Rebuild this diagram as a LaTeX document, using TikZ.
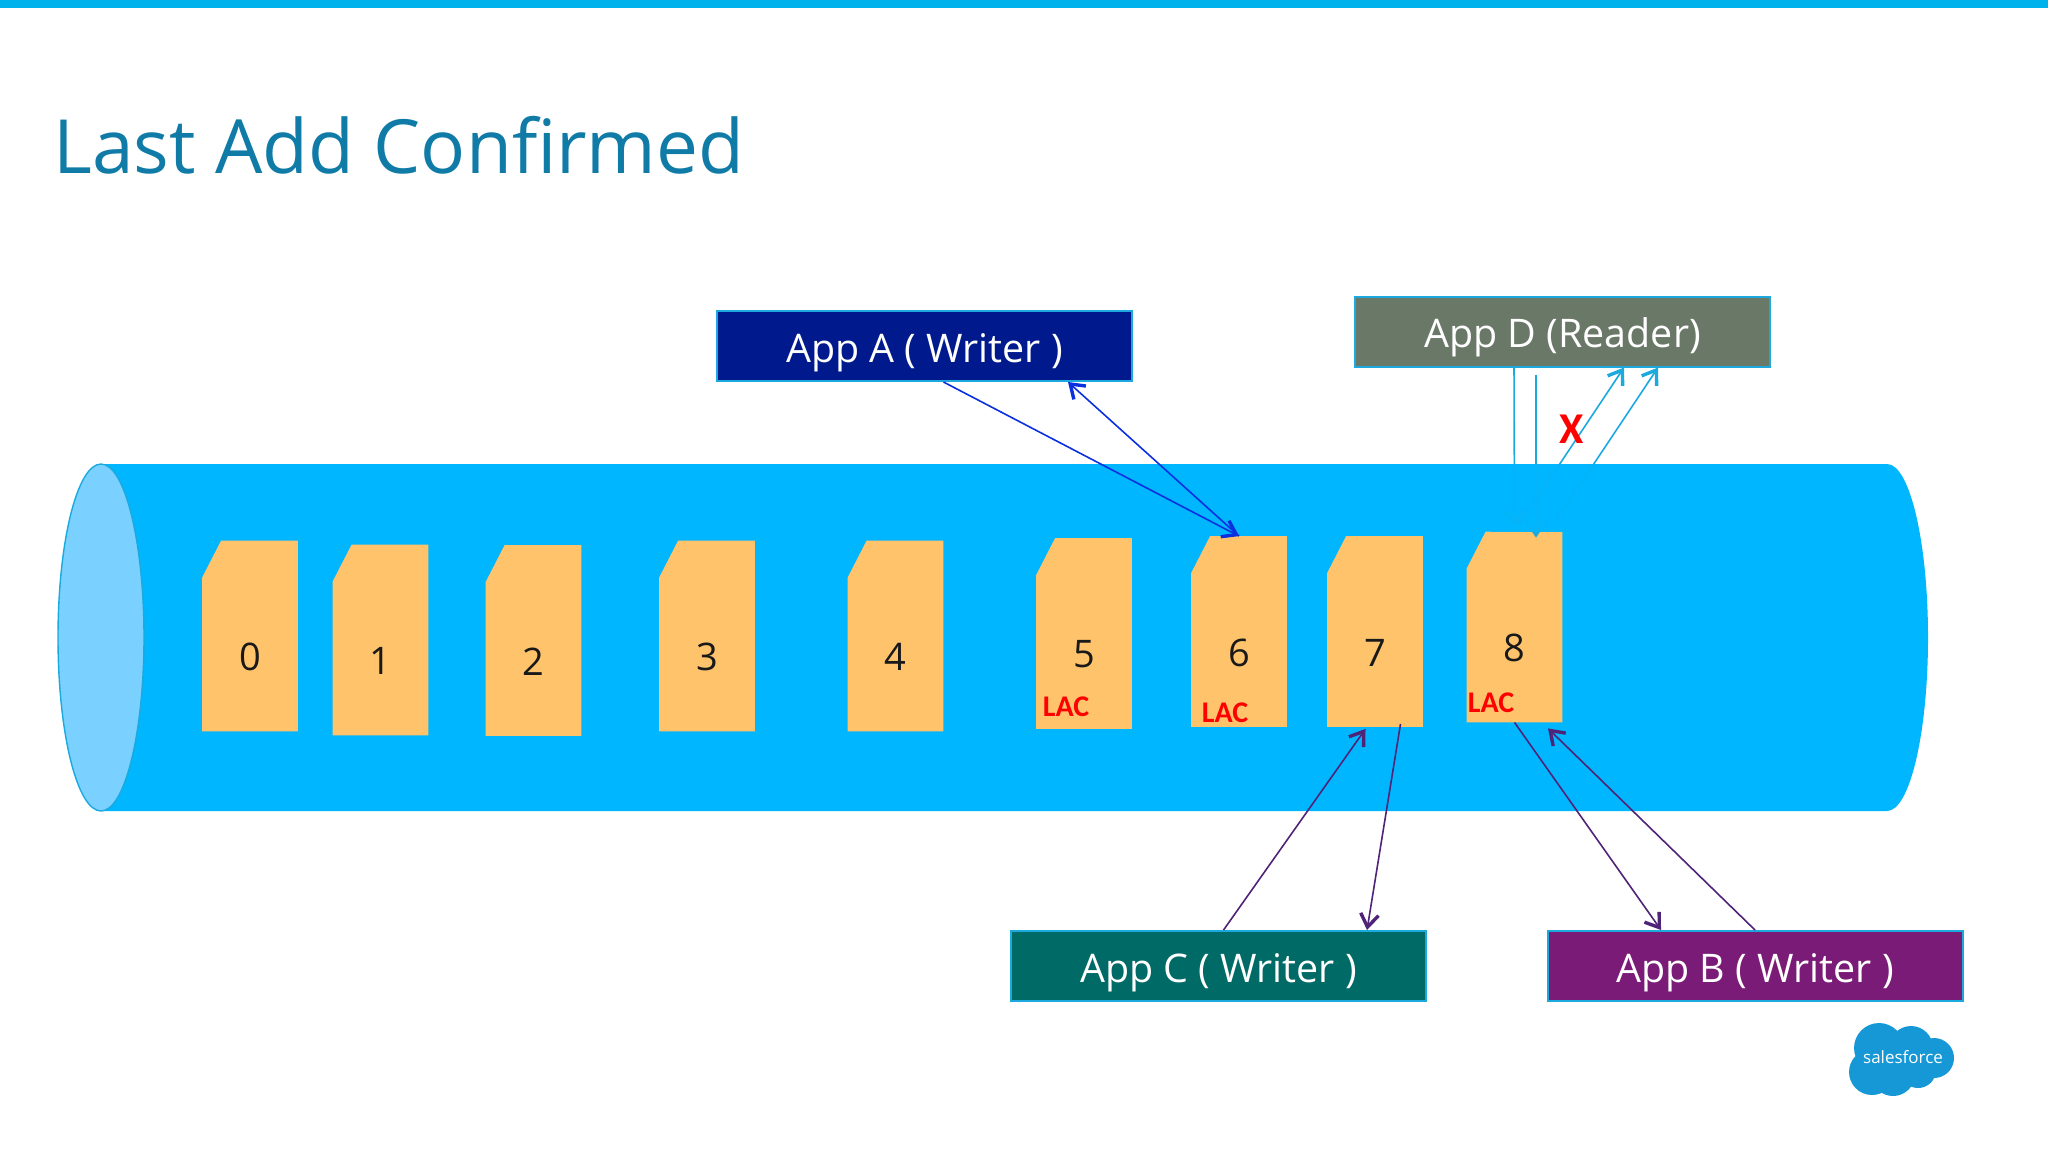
\documentclass[tikz,border=0pt]{standalone}
\usepackage{fontspec}
\setmainfont{Open Sans}
\newfontfamily\lacfont{Carlito}
\usetikzlibrary{arrows.meta}
\definecolor{barblue}{HTML}{00B2EC}
\definecolor{titleblue}{HTML}{0F7BA6}
\definecolor{tubeblue}{HTML}{00B6FF}
\definecolor{lidblue}{HTML}{7AD1FF}
\definecolor{edgeblue}{HTML}{1BA9DE}
\definecolor{docorange}{HTML}{FFC46B}
\definecolor{appablue}{HTML}{001A8E}
\definecolor{appdgrey}{HTML}{6A7868}
\definecolor{appcteal}{HTML}{006B66}
\definecolor{appbpurple}{HTML}{7B1B78}
\definecolor{linkpurple}{HTML}{4F2378}
\definecolor{linkblue}{HTML}{0A30E0}
\definecolor{cloudblue}{HTML}{1798D6}
\tikzset{
	doc/.style={inner sep=0pt, minimum width=47.5pt, minimum height=95pt},
	num/.style={font=\fontsize{19}{19}\selectfont, text=black!90, inner sep=0pt},
	lac/.style={font=\lacfont\bfseries\fontsize{15}{15}\selectfont, text=red, inner sep=0pt},
	app/.style={draw=edgeblue, line width=1pt, text=white, inner sep=0pt, text height=16.4pt, text depth=0pt,
		minimum width=207.5pt, minimum height=35pt, font=\fontsize{19.7}{19.7}\selectfont},
	link/.style={line width=0.8pt, -{Straight Barb[length=6.5pt,width=9pt,line width=1.7pt]}},
}
\begin{document}
\begin{tikzpicture}[x=0.5pt,y=-0.5pt]
	\useasboundingbox (0,0) rectangle (2048,1153);
	\fill[barblue] (0,0) rectangle (2048,8);
	\node[text=titleblue, anchor=base west, inner sep=0pt, font=\fontsize{37.4}{37.4}\selectfont] (title) at (53,173) {Last Add Confirmed};
	% the tube
	\fill[tubeblue] (102,464) -- (1887,464) arc[start angle=-90,end angle=90,x radius=41,y radius=173.5] -- (102,811) -- cycle;
	\draw[draw=edgeblue, fill=lidblue, line width=0.7pt] (101,637.5) ellipse [x radius=43, y radius=173.5];
	% the entries
	\foreach \n/\x/\y in {0/250/636, 1/380.5/640, 2/533.5/640.5, 3/707/636, 4/895.5/636, 5/1084/633.5, 6/1239/631.5, 7/1375/631.5, 8/1514.5/627} {
		\node[doc] (doc\n) at (\x,\y) {};
		\fill[docorange] (doc\n.south west) -- (doc\n.south east) -- (doc\n.north east)
			-- ([xshift=9.5pt]doc\n.north west) -- ([yshift=-18.5pt]doc\n.north west) -- cycle;
		\node[num] (num\n) at (\x,\y+21) {\n};
	}
	\node[lac] (lac5) at (1066,707) {LAC};
	\node[lac] (lac6) at (1225,713) {LAC};
	\node[lac] (lac8) at (1491,703) {LAC};
	% the applications
	\node[app, fill=appablue] (appA) at (924.5,346) {App A ( Writer )};
	\node[app, fill=appdgrey] (appD) at (1562.5,331.5) {App D (Reader)};
	\node[app, fill=appcteal] (appC) at (1218.5,966) {App C ( Writer )};
	\node[app, fill=appbpurple] (appB) at (1755,966) {App B ( Writer )};
	% writer A
	\draw[link, linkblue] ([xshift=9.5pt]appA.south) -- (doc6.north);
	\draw[link, linkblue] (doc6.north) -- ([xshift=71.75pt]appA.south);
	% reader D
	\draw[link, edgeblue] ([xshift=-24.25pt]appD.south) -- ([yshift=2.5pt]doc8.north);
	\draw[link, edgeblue] ([xshift=-13.25pt,yshift=-3.5pt]appD.south) -- ([xshift=10.75pt,yshift=-3pt]doc8.north);
	\draw[link, edgeblue] ([xshift=2.75pt,yshift=4pt]doc8.north) -- ([xshift=30.75pt]appD.south);
	\draw[link, edgeblue] ([xshift=19.75pt,yshift=4pt]doc8.north) -- ([xshift=47.75pt]appD.south);
	% reader lines fade inside the tube
	\fill[tubeblue, opacity=0.8] (1490,464.5) rectangle (1600,532);
	\node[text=red, inner sep=0pt, font=\lacfont\bfseries\fontsize{22}{22}\selectfont] (cross) at (1572,429) {X};
	% writer C
	\draw[link, linkpurple] ([xshift=2.5pt]appC.north) -- ([xshift=-4.75pt,yshift=-1pt]doc7.south);
	\draw[link, linkpurple] ([xshift=12.75pt,yshift=1.5pt]doc7.south) -- ([xshift=74.25pt]appC.north);
	% writer B
	\draw[link, linkpurple] (doc8.south) -- ([xshift=-47pt]appB.north);
	\draw[link, linkpurple] (appB.north) -- ([xshift=16.75pt,yshift=-3pt]doc8.south);
	% the logo
	\fill[cloudblue] (1879,1048) circle (25) (1911,1048) circle (22) (1934,1058) circle (20)
		(1872,1072) circle (23) (1893,1074) circle (22) (1918,1070) circle (18) (1901,1060) circle (28);
	\node[text=white, inner sep=0pt, font=\fontsize{8.5}{8.5}\selectfont] (logo) at (1903,1057) {salesforce};
\end{tikzpicture}
\end{document}
